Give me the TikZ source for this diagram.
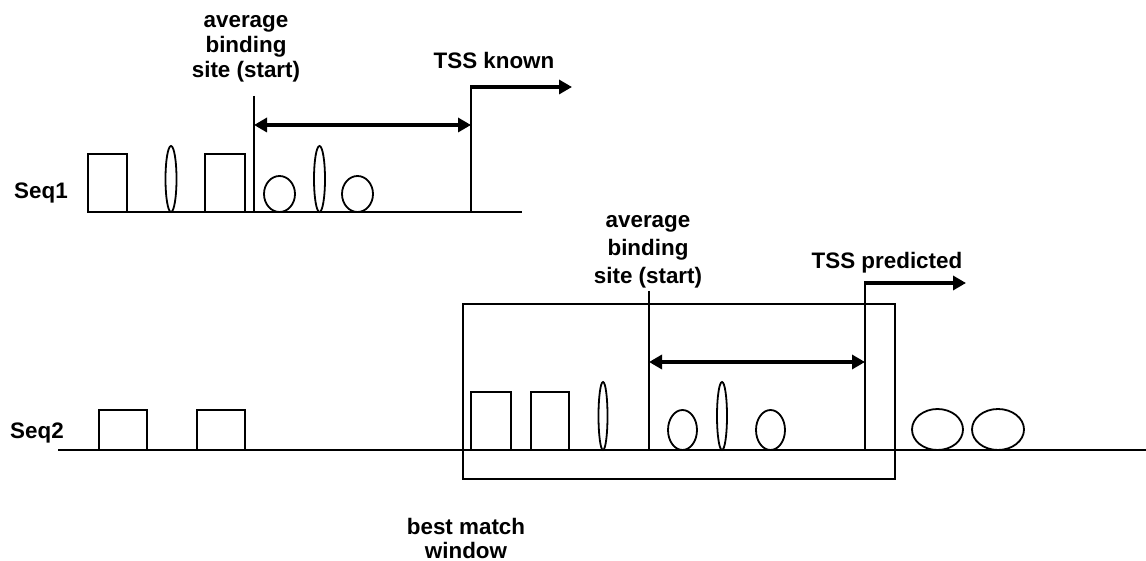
\documentclass[tikz,border=0pt]{standalone}
\usepackage{fontspec}
\setmainfont{Liberation Sans}
\usetikzlibrary{arrows.meta}
\tikzset{
  thin line/.style={line width=1.8pt},
  thick arrow/.style={line width=4pt,-{Triangle[length=13pt,width=14pt]}},
  span arrow/.style={line width=4pt,{Triangle[length=13pt,width=14pt]}-{Triangle[length=13pt,width=14pt]}},
  lbl/.style={font=\bfseries\fontsize{22.4}{27}\selectfont,align=center,inner sep=0pt},
  block/.style={draw,line width=1.8pt,fill=white},
  blob/.style={draw,line width=1.8pt,fill=white}
}
\begin{document}
\begin{tikzpicture}[x=1pt,y=-1pt]
\useasboundingbox (0,0) rectangle (1146,561);

% ---------- Seq1 ----------
\node[lbl] (seq1) at (41,193) {Seq1};
\coordinate (s1a) at (88,212);
\coordinate (s1b) at (522,212);
\draw[thin line] (s1a) -- (s1b);
\draw[block] (88,212) rectangle (127,154);
\draw[blob] (171,179) ellipse [x radius=5.5, y radius=33];
\draw[block] (205,212) rectangle (245,154);
\draw[blob] (279.5,194) ellipse [x radius=15.5, y radius=18];
\draw[blob] (319.5,179) ellipse [x radius=5.5, y radius=33];
\draw[blob] (357.5,194) ellipse [x radius=15.5, y radius=18];

% binding site marker and distance to the known TSS
\coordinate (bs1top) at (254,96);
\coordinate (bs1bot) at (254,212);
\draw[thin line] (bs1top) -- (bs1bot);
\node[lbl,font=\bfseries\fontsize{22.4}{25}\selectfont] (bs1lbl) at (246,49) {average\\binding\\site (start)};
\coordinate (tss1bot) at (471,212);
\coordinate (tss1top) at (471,87);
\coordinate (tss1end) at (572,87);
\draw[thin line] (tss1bot) -- (tss1top);
\draw[thick arrow] ([xshift=-0.9pt]tss1top) -- (tss1end);
\node[lbl] (tss1lbl) at (494,60) {TSS known};
\coordinate (d1a) at (254,125);
\coordinate (d1b) at (471,125);
\draw[span arrow] (d1a) -- (d1b);

% ---------- Seq2 ----------
\node[lbl] (seq2) at (37,433) {Seq2};
\coordinate (s2a) at (58,450);
\coordinate (s2b) at (1146,450);
\draw[block] (99,450) rectangle (147,410);
\draw[block] (197,450) rectangle (245,410);
\draw[thin line] (463,304) rectangle (895,479);
\draw[thin line] (s2a) -- (s2b);
\draw[block] (471,450) rectangle (511,392);
\draw[block] (531,450) rectangle (569,392);
\draw[blob] (603,416) ellipse [x radius=4.5, y radius=34];
\draw[blob] (722,416) ellipse [x radius=5, y radius=34];
\draw[blob] (682.5,430) ellipse [x radius=14.5, y radius=20];
\draw[blob] (770.5,430) ellipse [x radius=14.5, y radius=20];
\draw[blob] (937.5,429.5) ellipse [x radius=25.5, y radius=20.5];
\draw[blob] (998,429.5) ellipse [x radius=26, y radius=20.5];

% window label
\node[lbl,font=\bfseries\fontsize{22.4}{24}\selectfont] (winlbl) at (466,538) {best match\\window};

% binding site marker and distance to the predicted TSS
\coordinate (bs2top) at (649,291);
\coordinate (bs2bot) at (649,450);
\draw[thin line] (bs2top) -- (bs2bot);
\node[lbl,font=\bfseries\fontsize{22.4}{28}\selectfont] (bs2lbl) at (648,252) {average\\binding\\site (start)};
\coordinate (tss2bot) at (865,450);
\coordinate (tss2top) at (865,283);
\coordinate (tss2end) at (966,283);
\draw[thin line] (tss2bot) -- (tss2top);
\draw[thick arrow] ([xshift=-0.9pt]tss2top) -- (tss2end);
\node[lbl] (tss2lbl) at (887,263) {TSS predicted};
\coordinate (d2a) at (649,362);
\coordinate (d2b) at (865,362);
\draw[span arrow] (d2a) -- (d2b);
\end{tikzpicture}
\end{document}
